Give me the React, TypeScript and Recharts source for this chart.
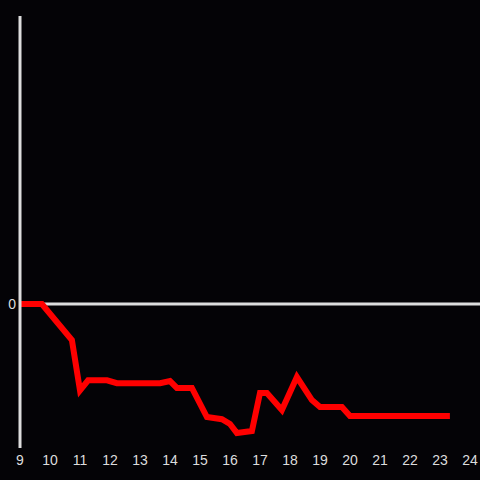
import { LineChart, Line, XAxis, YAxis, ReferenceLine } from 'recharts';

const xs = [9, 9.73, 10.73, 11.0, 11.27, 11.9, 12.23, 13.67, 14.0, 14.23, 14.73, 15.23, 15.73, 16.0, 16.23, 16.73, 17.0, 17.23, 17.73, 18.23, 18.73, 19.0, 19.73, 20.0, 23.33];
const ys = [0, 0, -0.25, -0.6, -0.53, -0.53, -0.55, -0.55, -0.535, -0.583, -0.583, -0.785, -0.8, -0.833, -0.896, -0.882, -0.618, -0.618, -0.736, -0.507, -0.667, -0.715, -0.715, -0.778, -0.778];
const xTicks = [9, 10, 11, 12, 13, 14, 15, 16, 17, 18, 19, 20, 21, 22, 23, 24];
const yTicks = [0];

const data = xs.map((x, i) => ({ x, y: ys[i] }));

const tickStyle = { fill: '#dddddd', fontSize: 14, fontFamily: 'Liberation Sans, Arial, sans-serif' };

export default function App() {
  return (
    <div style={{ position: 'fixed', left: 0, top: 0, width: 480, height: 480, background: '#040306' }}>
      <LineChart width={480} height={480} data={data} margin={{ top: 16, right: 0, bottom: 0, left: 0 }}>
        <XAxis
          dataKey="x"
          type="number"
          domain={[9, 24 + 1 / 3]}
          ticks={xTicks}
          axisLine={false}
          tickLine={false}
          tickSize={0}
          tickMargin={7}
          height={32}
          tick={tickStyle}
          interval={0}
        />
        <YAxis
          type="number"
          domain={[-1, 2]}
          ticks={yTicks}
          width={20}
          axisLine={{ stroke: '#dddddd', strokeWidth: 3 }}
          tickLine={false}
          tickSize={0}
          tickMargin={4}
          tick={tickStyle}
        />
        <ReferenceLine y={0} stroke="#dddddd" strokeWidth={3} />
        <Line
          dataKey="y"
          stroke="#ff0000"
          strokeWidth={6}
          dot={false}
          isAnimationActive={false}
          type="linear"
        />
      </LineChart>
    </div>
  );
}
